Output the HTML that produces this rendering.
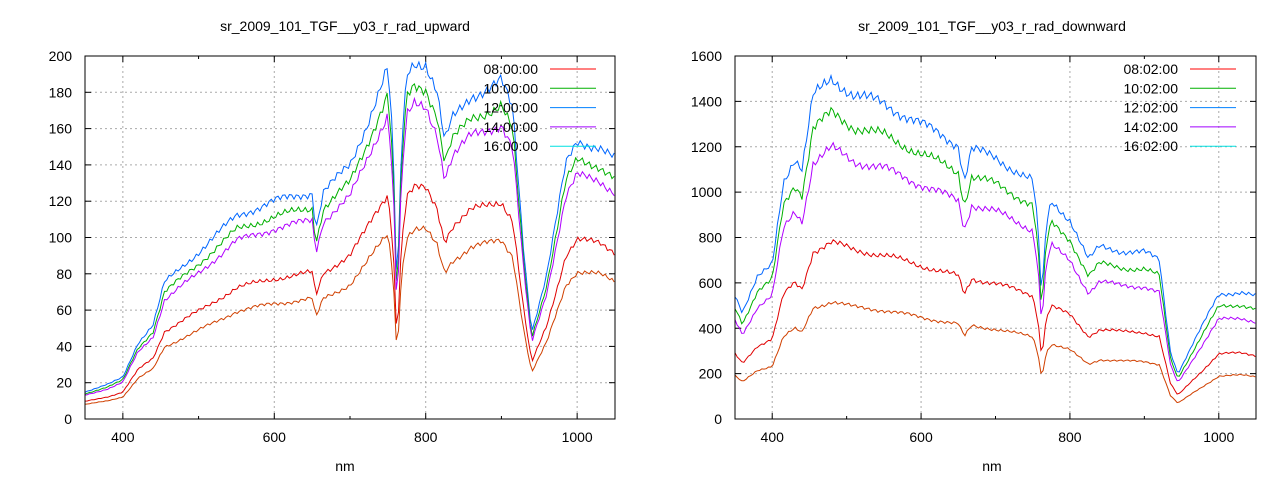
<!DOCTYPE html><html><head><style>body{margin:0;background:#fff}svg{font-family:"Liberation Sans",sans-serif}</style></head><body>
<svg id="s" width="1280" height="480" xmlns="http://www.w3.org/2000/svg"></svg>
<script>
const S=document.getElementById('s');let h='';
function interp(pts,x){for(let i=0;i<pts.length-1;i++){if(x>=pts[i][0]&&x<=pts[i+1][0]){const t=(x-pts[i][0])/(pts[i+1][0]-pts[i][0]);return pts[i][1]+t*(pts[i+1][1]-pts[i][1]);}}return pts[pts.length-1][1];}
function plot(o){const {x0,x1,y0,y1,ymax,ystep,title,cx,pts,ratios,labels,lx}=o;
const X=v=>x0+(v-350)/700*(x1-x0),Y=v=>y1-v/ymax*(y1-y0);
h+=`<text x="${cx}" y="31" font-size="14" text-anchor="middle">${title}</text>`;
for(let v=0;v<=ymax;v+=ystep){const y=Y(v);if(v>0&&v<ymax)h+=`<line x1="${x0}" x2="${x1}" y1="${y}" y2="${y}" stroke="#aaa" stroke-dasharray="2,3"/>`;h+=`<line x1="${x0}" x2="${x0+6}" y1="${y}" y2="${y}" stroke="#000"/><line x1="${x1-6}" x2="${x1}" y1="${y}" y2="${y}" stroke="#000"/><text x="${x0-13}" y="${y+5}" font-size="14" text-anchor="end">${v}</text>`;}
for(let v=400;v<=1000;v+=200){const x=X(v);h+=`<line x1="${x}" x2="${x}" y1="${y0}" y2="${y1}" stroke="#aaa" stroke-dasharray="2,3"/><line x1="${x}" x2="${x}" y1="${y1}" y2="${y1-6}" stroke="#000"/><line x1="${x}" x2="${x}" y1="${y0}" y2="${y0+6}" stroke="#000"/><text x="${x}" y="${y1+23}" font-size="14" text-anchor="middle">${v}</text>`;}
for(let v=500;v<=1000;v+=100){if(v%200==0)continue;const x=X(v);h+=`<line x1="${x}" x2="${x}" y1="${y1}" y2="${y1-3}" stroke="#000"/><line x1="${x}" x2="${x}" y1="${y0}" y2="${y0+3}" stroke="#000"/>`;}
h+=`<text x="${cx}" y="471" font-size="14" text-anchor="middle">nm</text>`;
const cols=['#0066ff','#00b000','#b000ff','#e00000','#d04000'];
ratios.forEach((r,k)=>{let p=[];for(let w=350;w<=1050;w+=3){let v=interp(pts,w);v*=r;v+=v*0.025*Math.sin(w*1.7+k)*Math.sin(w*0.31);p.push(X(w).toFixed(1)+','+Y(Math.max(0,v)).toFixed(1));}h+=`<polyline points="${p.join(' ')}" fill="none" stroke="${cols[k]}" stroke-width="1"/>`;});
const lc=['#ff0000','#00b000','#0080ff','#a000ff','#00e0e0'];
labels.forEach((l,i)=>{const y=69+i*19.3;h+=`<text x="${lx}" y="${y+5}" font-size="14" text-anchor="end">${l}</text><line x1="${lx+12}" x2="${lx+58}" y1="${y}" y2="${y}" stroke="${lc[i]}"/>`;});
h+=`<rect x="${x0}" y="${y0}" width="${x1-x0}" height="${y1-y0}" fill="none" stroke="#000"/>`;}
plot({x0:85,x1:615,y0:56,y1:419,ymax:200,ystep:20,cx:345,title:'sr_2009_101_TGF__y03_r_rad_upward',lx:538,
pts:[[350,15],[380,19],[400,23],[420,42],[440,52],[455,75],[500,92],[550,112],[600,120],[650,125],[655,105],[665,125],[700,140],[720,160],[750,193],[757,150],[762,65],[768,150],[775,190],[785,197],[800,196],[815,180],[825,152],[835,165],[860,178],[900,186],[915,170],[930,90],[940,48],[960,80],[985,140],[1000,153],[1030,150],[1050,143]],
ratios:[1,0.93,0.875,0.645,0.53],labels:['08:00:00','10:00:00','12:00:00','14:00:00','16:00:00']});
plot({x0:735,x1:1256,y0:56,y1:419,ymax:1600,ystep:200,cx:992,title:'sr_2009_101_TGF__y03_r_rad_downward',lx:1178,
pts:[[350,550],[360,470],[380,620],[400,680],[415,1050],[430,1150],[440,1100],[455,1420],[480,1500],[510,1430],[550,1390],[600,1300],[650,1210],[658,1050],[668,1190],[700,1150],[750,1050],[757,850],[762,520],[768,850],[775,960],[800,880],[825,700],[840,760],[870,740],[900,735],[920,700],[935,300],[945,200],[965,330],[1000,550],[1030,560],[1050,540]],
ratios:[1,0.9,0.795,0.52,0.345],labels:['08:02:00','10:02:00','12:02:00','14:02:00','16:02:00']});
S.innerHTML=h;
</script></body></html>
